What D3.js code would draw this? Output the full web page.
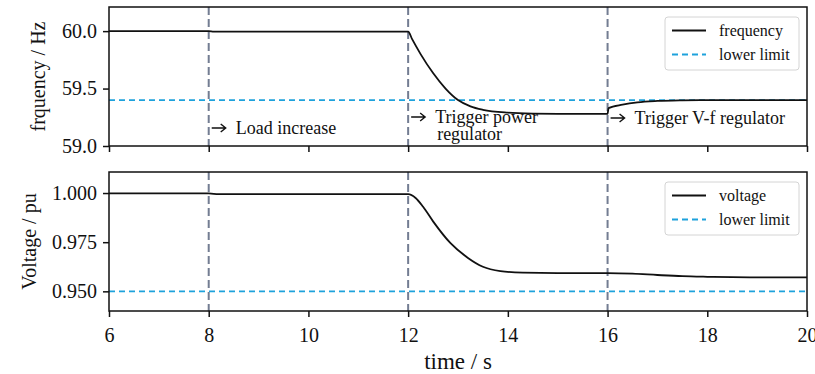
<!DOCTYPE html>
<html lang="en">
<head>
<meta charset="UTF-8">
<title>Frequency and voltage response</title>
<script src="https://d3js.org/d3.v7.min.js"></script>
<style>
    body { margin: 0; background: #fff; }
    text { font-family: "Liberation Serif", "Times New Roman", serif; fill: #111; }
    .tick text { font-size: 20px; }
    .axis-label { font-size: 20px; }
    .legend text { font-size: 16px; }
    .note { font-size: 18px; }
</style>
</head>
<body>
<svg id="chart" width="815" height="374"></svg>
<script>
    // frequency trace (s, Hz)
    const freqTime = [6, 8, 8.1, 12, 12.08, 12.25, 12.5, 12.75, 13, 13.25, 13.5, 14, 14.5, 15, 16, 16.02, 16.3, 16.6, 17, 17.5, 18, 20];
    const freqValue = [60, 60, 59.996, 59.996, 59.93, 59.8, 59.635, 59.5, 59.4, 59.345, 59.315, 59.29, 59.282, 59.28, 59.28, 59.33, 59.36, 59.38, 59.392, 59.398, 59.4, 59.4];
    // voltage trace (s, pu)
    const voltTime = [6, 8, 8.2, 12, 12.15, 12.3, 12.5, 12.85, 13.2, 13.5, 13.85, 14.3, 15, 16, 16.5, 17, 17.5, 18, 18.5, 19, 20];
    const voltValue = [0.9998, 0.9998, 0.9994, 0.9994, 0.9975, 0.993, 0.9856, 0.9745, 0.967, 0.9625, 0.9603, 0.9595, 0.9593, 0.9593, 0.959, 0.9583, 0.9577, 0.9574, 0.9572, 0.9571, 0.9571];

    const freqLimit = 59.4;
    const voltLimit = 0.95;
    const events = [8, 12, 16];
    const xTicks = [6, 8, 10, 12, 14, 16, 18, 20];
    const freqTicks = [59.0, 59.5, 60.0];
    const voltTicks = [0.95, 0.975, 1.0];

    const svg = d3.select('#chart');
    const x = d3.scaleLinear().domain([6, 20]).range([109, 807]);

    const panels = [
        { top: 7, bottom: 146, domain: [59.0, 60.21], ticks: freqTicks, fmt: d3.format('.1f'),
          t: freqTime, v: freqValue, limit: freqLimit, label: 'frquency / Hz', labelX: 38, name: 'frequency', showX: false },
        { top: 172, bottom: 311, domain: [0.940, 1.0107], ticks: voltTicks, fmt: d3.format('.3f'),
          t: voltTime, v: voltValue, limit: voltLimit, label: 'Voltage / pu', labelX: 29, name: 'voltage', showX: true }
    ];

    panels.forEach(p => {
        const y = d3.scaleLinear().domain(p.domain).range([p.bottom, p.top]);
        const g = svg.append('g');

        // event markers
        g.selectAll('.event')
            .data(events)
            .enter()
            .append('line')
            .attr('x1', d => x(d)).attr('x2', d => x(d))
            .attr('y1', p.top).attr('y2', p.bottom)
            .attr('stroke', '#737d92')
            .attr('stroke-width', 2)
            .attr('stroke-dasharray', '8,4');

        // lower limit
        g.append('line')
            .attr('x1', x(6)).attr('x2', x(20))
            .attr('y1', y(p.limit)).attr('y2', y(p.limit))
            .attr('stroke', '#1ea2dc')
            .attr('stroke-width', 1.8)
            .attr('stroke-dasharray', '6,4');

        const pts = p.t.map((t, i) => [t, p.v[i]]);
        g.append('path')
            .datum(pts)
            .attr('fill', 'none')
            .attr('stroke', '#111')
            .attr('stroke-width', 1.8)
            .attr('d', d3.line().x(d => x(d[0])).y(d => y(d[1])).curve(d3.curveMonotoneX));

        // frame
        g.append('rect')
            .attr('x', x(6)).attr('y', p.top)
            .attr('width', x(20) - x(6)).attr('height', p.bottom - p.top)
            .attr('fill', 'none').attr('stroke', '#111').attr('stroke-width', 1.5);

        const xAxis = g.append('g')
            .attr('transform', `translate(0,${p.bottom})`)
            .call(d3.axisBottom(x).tickValues(xTicks).tickSize(6).tickPadding(6)
                .tickFormat(p.showX ? d3.format('d') : ''));
        const yAxis = g.append('g')
            .attr('transform', `translate(${x(6)},0)`)
            .call(d3.axisLeft(y).tickValues(p.ticks).tickSize(6).tickPadding(6).tickFormat(p.fmt));
        [xAxis, yAxis].forEach(a => {
            a.select('.domain').remove();
            a.selectAll('.tick line').attr('stroke', '#111').attr('stroke-width', 1.5);
        });
        xAxis.selectAll('.tick text').attr('dy', '0.95em');

        g.append('text')
            .attr('class', 'axis-label')
            .attr('transform', `translate(${p.labelX},${(p.top + p.bottom) / 2}) rotate(-90)`)
            .attr('text-anchor', 'middle')
            .attr('dy', '0.35em')
            .text(p.label);

        // legend
        const lg = g.append('g').attr('class', 'legend')
            .attr('transform', `translate(665,${p.top + 10})`);
        lg.append('rect')
            .attr('width', 134).attr('height', 53).attr('rx', 3)
            .attr('fill', '#fff').attr('stroke', '#d4d4d4');
        [[p.name, '#111', null], ['lower limit', '#1ea2dc', '6,4']].forEach((e, i) => {
            const ry = 13.5 + i * 24;
            lg.append('line')
                .attr('x1', 7).attr('x2', 41).attr('y1', ry).attr('y2', ry)
                .attr('stroke', e[1]).attr('stroke-width', 1.8)
                .attr('stroke-dasharray', e[2]);
            lg.append('text')
                .attr('x', 54).attr('y', ry).attr('dy', '0.32em')
                .text(e[0]);
        });
    });

    svg.append('text')
        .attr('class', 'axis-label')
        .attr('x', 458).attr('y', 361)
        .attr('text-anchor', 'middle').attr('dy', '0.35em')
        .style('font-size', '23px')
        .text('time / s');

    // annotations in the top panel
    const notes = [
        { t: 8, y: 128, lines: ['Load increase'] },
        { t: 12, y: 117, lines: ['Trigger power', 'regulator'] },
        { t: 16, y: 118, lines: ['Trigger V-f regulator'] }
    ];
    notes.forEach(n => {
        const ax = x(n.t) + 3;
        svg.append('path')
            .attr('d', `M${ax},${n.y}H${ax + 14}M${ax + 9},${n.y - 4}L${ax + 14},${n.y}L${ax + 9},${n.y + 4}`)
            .attr('fill', 'none').attr('stroke', '#111').attr('stroke-width', 1.4);
        n.lines.forEach((l, i) => {
            svg.append('text')
                .attr('class', 'note')
                .attr('x', ax + 24 + (i > 0 ? 2 : 0))
                .attr('y', n.y + i * 17)
                .attr('dy', '0.35em')
                .text(l);
        });
    });
</script>
</body>
</html>
